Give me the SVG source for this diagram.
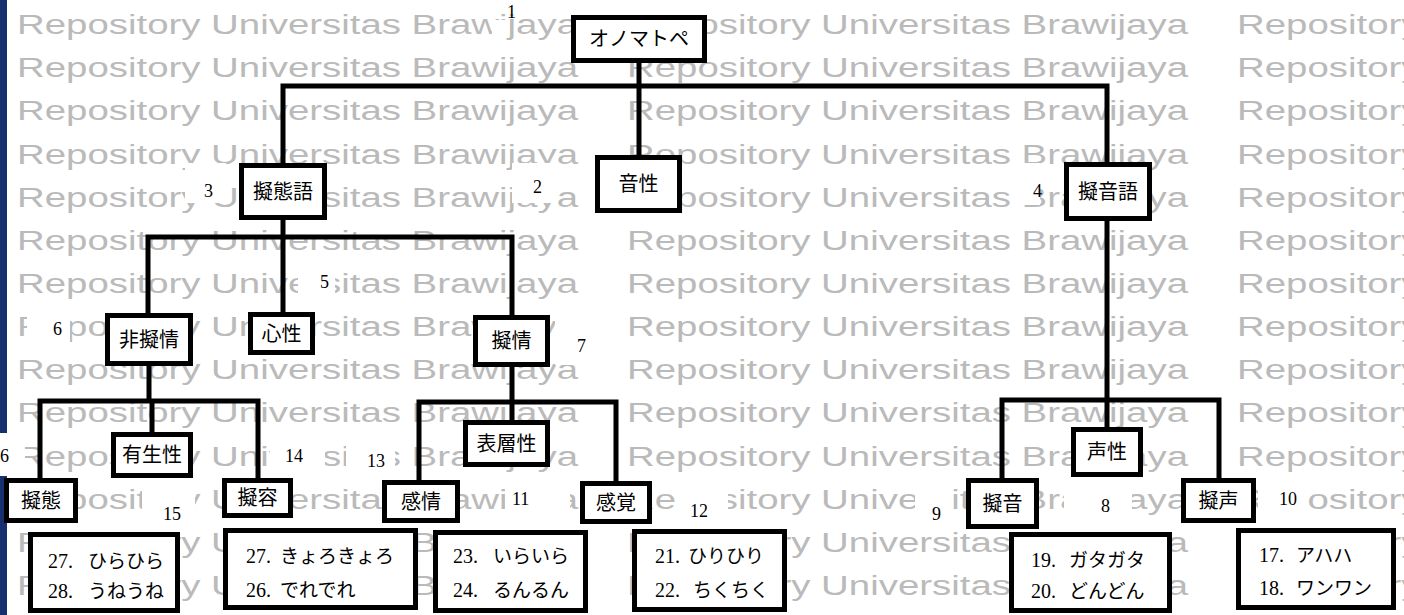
<svg xmlns="http://www.w3.org/2000/svg" xmlns:xlink="http://www.w3.org/1999/xlink" width="1404" height="615" viewBox="0 0 1404 615">
<style>
.wm{font-family:"Liberation Sans",Arial,sans-serif;font-size:27px;fill:#bababa}
.box{fill:#fff;stroke:#000;stroke-width:5}
.lbl{font-family:"Noto Sans CJK JP",sans-serif;font-size:20px;fill:#000;text-anchor:middle}
.num{font-family:"Liberation Serif","Times New Roman",serif;font-size:18px;fill:#000}
.item{font-family:"Liberation Serif","Noto Sans CJK JP",serif;font-size:20px;fill:#000}
.jp{font-family:"Noto Sans CJK JP",sans-serif;font-size:19px}
.wp{fill:#fff}
.con{fill:none;stroke:#000;stroke-width:5;stroke-linecap:square}
</style>
<defs>
<text id="wm" class="wm" textLength="561" lengthAdjust="spacingAndGlyphs">Repository Universitas Brawijaya</text>
<g id="wmrow"><use xlink:href="#wm" x="17"/><use xlink:href="#wm" x="627"/><use xlink:href="#wm" x="1237"/></g>
</defs>
<rect width="1404" height="615" fill="#fff"/>
<g id="watermark">
<use xlink:href="#wmrow" y="34"/><use xlink:href="#wmrow" y="77"/><use xlink:href="#wmrow" y="120"/><use xlink:href="#wmrow" y="163.5"/><use xlink:href="#wmrow" y="206.5"/><use xlink:href="#wmrow" y="250"/><use xlink:href="#wmrow" y="293"/><use xlink:href="#wmrow" y="336"/><use xlink:href="#wmrow" y="379"/><use xlink:href="#wmrow" y="422"/><use xlink:href="#wmrow" y="465.5"/><use xlink:href="#wmrow" y="508.5"/><use xlink:href="#wmrow" y="552"/><use xlink:href="#wmrow" y="595"/>
</g>
<rect x="0" y="0" width="7" height="433" fill="#16306f"/>
<rect x="0" y="476" width="7" height="139" fill="#16306f"/>
<g id="patches">
<rect class="wp" x="492" y="20" width="15" height="17"/>
<rect class="wp" x="185" y="163" width="41" height="40"/>
<rect class="wp" x="512" y="163" width="45" height="40"/>
<rect class="wp" x="1017" y="163" width="23" height="42"/>
<rect class="wp" x="298" y="266" width="37" height="34"/>
<rect class="wp" x="27" y="308" width="43" height="42"/>
<rect class="wp" x="555" y="316" width="35" height="49"/>
<rect class="wp" x="0" y="433" width="25" height="43"/>
<rect class="wp" x="270" y="438" width="55" height="37"/>
<rect class="wp" x="346" y="438" width="49" height="37"/>
<rect class="wp" x="142" y="488" width="53" height="42"/>
<rect class="wp" x="505" y="478" width="65" height="42"/>
<rect class="wp" x="678" y="478" width="50" height="50"/>
<rect class="wp" x="915" y="485" width="35" height="45"/>
<rect class="wp" x="1064" y="480" width="68" height="45"/>
<rect class="wp" x="1258" y="478" width="50" height="42"/>
</g>
<g id="connectors">
<path class="con" d="M639 63V155M283 86H1107M283 86V163M1107 86V162"/>
<path class="con" d="M283 220V237M148 237H512M148 237V313M283 237V312M512 237V315"/>
<path class="con" d="M149 366V401M40 401H258M40 401V478M152 401V432M258 401V478"/>
<path class="con" d="M512 367V402M419 402H616M419 402V480M512 402V420M616 402V481"/>
<path class="con" d="M1107 221V400M1002 400H1219M1002 400V478M1107 400V427M1219 400V478"/>
</g>
<g id="n1"><rect class="box" x="573.5" y="17.5" width="131" height="43"/><text class="lbl" x="639" y="46">オノマトペ</text></g>
<g id="n2"><rect class="box" x="597.5" y="157.5" width="82" height="53"/><text class="lbl" x="638.5" y="191">音性</text></g>
<g id="n3"><rect class="box" x="241.5" y="165.5" width="83" height="52"/><text class="lbl" x="283" y="198.5">擬態語</text></g>
<g id="n4"><rect class="box" x="1066.5" y="164.5" width="83" height="54"/><text class="lbl" x="1108" y="198.5">擬音語</text></g>
<g id="n6"><rect class="box" x="107.5" y="315.5" width="83" height="48"/><text class="lbl" x="149" y="346.5">非擬情</text></g>
<g id="n5"><rect class="box" x="250.5" y="314.5" width="62" height="38"/><text class="lbl" x="281.5" y="340.5">心性</text></g>
<g id="n7"><rect class="box" x="475.5" y="317.5" width="72" height="47"/><text class="lbl" x="511.5" y="348">擬情</text></g>
<g id="n16"><rect class="box" x="113.5" y="434.5" width="77" height="41"/><text class="lbl" x="152" y="462">有生性</text></g>
<g id="n15"><rect class="box" x="6.5" y="480.5" width="69" height="40"/><text class="lbl" x="41" y="507.5">擬態</text></g>
<g id="n14"><rect class="box" x="224.5" y="480.5" width="66" height="35"/><text class="lbl" x="257.5" y="505">擬容</text></g>
<g id="n13"><rect class="box" x="384.5" y="482.5" width="73" height="38"/><text class="lbl" x="421" y="508.5">感情</text></g>
<g id="n11"><rect class="box" x="465.5" y="422.5" width="82" height="42"/><text class="lbl" x="506.5" y="450.5">表層性</text></g>
<g id="n12"><rect class="box" x="582.5" y="483.5" width="67" height="38"/><text class="lbl" x="616" y="509.5">感覚</text></g>
<g id="n8"><rect class="box" x="1073.5" y="429.5" width="67" height="45"/><text class="lbl" x="1107" y="459">声性</text></g>
<g id="n9"><rect class="box" x="968.5" y="480.5" width="68" height="46"/><text class="lbl" x="1002.5" y="510.5">擬音</text></g>
<g id="n10"><rect class="box" x="1183.5" y="480.5" width="70" height="40"/><text class="lbl" x="1218.5" y="507.5">擬声</text></g>
<g id="list15"><rect class="box" x="30.5" y="534.5" width="147" height="76"/><text class="item" x="48" y="568">27.<tspan class="jp" x="88">ひらひら</tspan></text><text class="item" x="48" y="598">28.<tspan class="jp" x="88">うねうね</tspan></text></g>
<g id="list14"><rect class="box" x="225.5" y="530.5" width="190" height="77"/><text class="item" x="246" y="563">27.<tspan class="jp" x="280">きょろきょろ</tspan></text><text class="item" x="246" y="597">26.<tspan class="jp" x="280">でれでれ</tspan></text></g>
<g id="list13"><rect class="box" x="435.5" y="532.5" width="150" height="78"/><text class="item" x="453" y="563">23.<tspan class="jp" x="493">いらいら</tspan></text><text class="item" x="453" y="597">24.<tspan class="jp" x="493">るんるん</tspan></text></g>
<g id="list12"><rect class="box" x="634.5" y="531.5" width="150" height="78"/><text class="item" x="655" y="563">21.<tspan class="jp" x="688">ひりひり</tspan></text><text class="item" x="655" y="597">22.<tspan class="jp" x="693">ちくちく</tspan></text></g>
<g id="list9"><rect class="box" x="1011.5" y="534.5" width="158" height="76"/><text class="item" x="1031" y="567">19.<tspan class="jp" x="1069">ガタガタ</tspan></text><text class="item" x="1031" y="598">20.<tspan class="jp" x="1069">どんどん</tspan></text></g>
<g id="list10"><rect class="box" x="1238.5" y="530.5" width="155" height="77"/><text class="item" x="1259" y="562">17.<tspan class="jp" x="1296">アハハ</tspan></text><text class="item" x="1259" y="595">18.<tspan class="jp" x="1296">ワンワン</tspan></text></g>
<g id="numbers">
<text class="num" x="507" y="18">1</text>
<text class="num" x="533" y="193">2</text>
<text class="num" x="204" y="197">3</text>
<text class="num" x="1033" y="197">4</text>
<text class="num" x="320" y="288">5</text>
<text class="num" x="53" y="335">6</text>
<text class="num" x="577" y="352">7</text>
<text class="num" x="1101" y="512">8</text>
<text class="num" x="932" y="520">9</text>
<text class="num" x="1279" y="505">10</text>
<text class="num" x="512" y="505">11</text>
<text class="num" x="690" y="517">12</text>
<text class="num" x="367" y="467">13</text>
<text class="num" x="285" y="462">14</text>
<text class="num" x="163" y="520">15</text>
<text class="num" x="0" y="462">6</text>
</g>
</svg>
